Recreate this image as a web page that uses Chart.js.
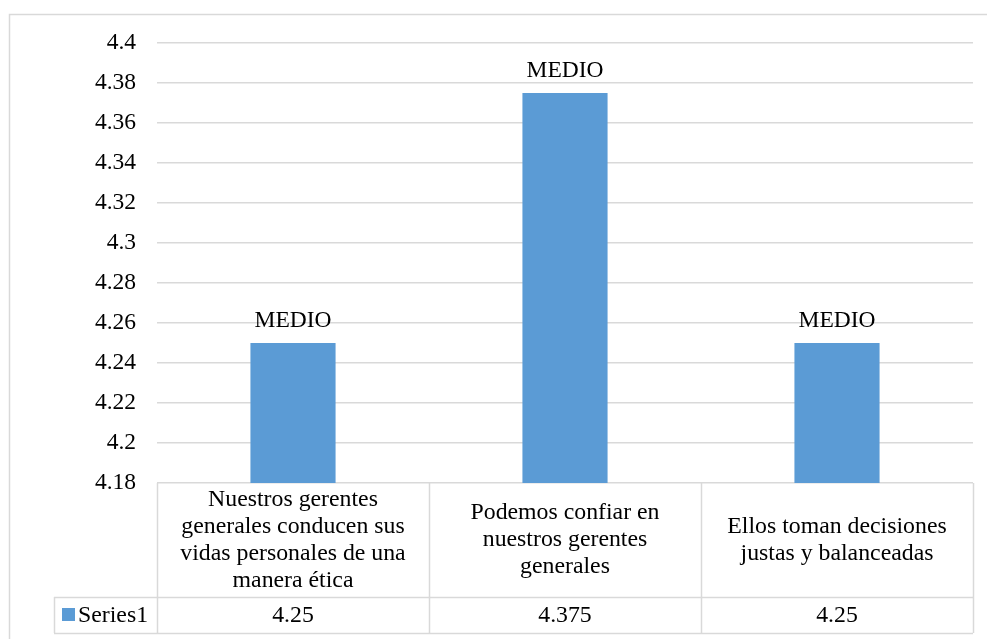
<!DOCTYPE html>
<html>
<head>
    <meta charset="UTF-8" />
    <title>Gerentes generales</title>
    <script src="https://cdn.jsdelivr.net/npm/chart.js"></script>
    <style>
        html, body { margin: 0; padding: 0; background: #fff; }
        #wrap { width: 987px; height: 639px; position: relative; }
    </style>
</head>
<body>
    <div id="wrap"><canvas id="chart"></canvas></div>

    <script>
        // data
        const categories = [
            ["Nuestros gerentes", "generales conducen sus", "vidas personales de una", "manera ética"],
            ["Podemos confiar en", "nuestros gerentes", "generales"],
            ["Ellos toman decisiones", "justas y balanceadas"]
        ];
        const seriesName = "Series1";
        const values = [4.25, 4.375, 4.25];
        const valueLabels = ["4.25", "4.375", "4.25"];
        const barLabels = ["MEDIO", "MEDIO", "MEDIO"];
        const yMin = 4.18, yMax = 4.4, yStep = 0.02;

        const FAMILY = '"Liberation Serif"';
        const FONT = '23.8px ' + FAMILY;
        const LABEL_FONT = '23.5px ' + FAMILY;
        const BAR = '#5B9BD5';
        const LINE = '#d9d9d9';

        const framePlugin = {
            id: 'frame',
            beforeDraw(chart) {
                const ctx = chart.ctx;
                ctx.save();
                ctx.strokeStyle = LINE;
                ctx.lineWidth = 1.5;
                ctx.strokeRect(9.5, 14.5, 990, 640);
                ctx.restore();
            }
        };

        const labelPlugin = {
            id: 'barLabels',
            afterDatasetsDraw(chart) {
                const ctx = chart.ctx;
                const meta = chart.getDatasetMeta(0);
                ctx.save();
                ctx.font = LABEL_FONT;
                ctx.fillStyle = '#000';
                ctx.textAlign = 'center';
                ctx.textBaseline = 'alphabetic';
                meta.data.forEach((bar, i) => {
                    ctx.fillText(barLabels[i], bar.x, bar.y - 16);
                });
                ctx.restore();
            }
        };

        // data table under the plot (Excel style)
        const tablePlugin = {
            id: 'dataTable',
            afterDraw(chart) {
                const ctx = chart.ctx;
                const x = chart.scales.x;
                const area = chart.chartArea;
                const n = categories.length;
                const colW = (area.right - area.left) / n;
                const top = area.bottom;
                const mid = top + 114;
                const bottom = mid + 36;
                const legLeft = 54;

                ctx.save();
                ctx.strokeStyle = LINE;
                ctx.lineWidth = 1.5;
                ctx.beginPath();
                for (let i = 0; i <= n; i++) {
                    const px = Math.round(area.left + i * colW) + 0.5;
                    ctx.moveTo(px, top);
                    ctx.lineTo(px, bottom);
                }
                ctx.moveTo(legLeft, mid + 0.5);
                ctx.lineTo(area.right, mid + 0.5);
                ctx.moveTo(legLeft, bottom + 0.5);
                ctx.lineTo(area.right, bottom + 0.5);
                ctx.moveTo(legLeft + 0.5, mid);
                ctx.lineTo(legLeft + 0.5, bottom);
                ctx.stroke();

                ctx.font = FONT;
                ctx.fillStyle = '#000';
                ctx.textAlign = 'center';
                ctx.textBaseline = 'middle';
                const lh = 27;
                categories.forEach((lines, i) => {
                    const cx = x.getPixelForValue(i);
                    const cy = (top + mid) / 2;
                    const y0 = cy - (lines.length - 1) * lh / 2;
                    lines.forEach((t, j) => ctx.fillText(t, cx, y0 + j * lh));
                    ctx.fillText(valueLabels[i], cx, (mid + bottom) / 2 + 1);
                });

                // legend key
                const ry = (mid + bottom) / 2;
                ctx.fillStyle = BAR;
                ctx.fillRect(62, ry - 7, 13, 13);
                ctx.fillStyle = '#000';
                ctx.textAlign = 'left';
                ctx.fillText(seriesName, 78, ry + 1);
                ctx.restore();
            }
        };

        new Chart(document.getElementById('chart'), {
            type: 'bar',
            data: {
                labels: categories.map(c => c.join(' ')),
                datasets: [{
                    label: seriesName,
                    data: values,
                    backgroundColor: BAR,
                    borderWidth: 0,
                    barPercentage: 1,
                    categoryPercentage: 0.313
                }]
            },
            options: {
                responsive: true,
                maintainAspectRatio: false,
                animation: false,
                layout: { padding: { top: 43, right: 14, bottom: 156, left: 0 } },
                plugins: {
                    legend: { display: false },
                    tooltip: { enabled: false }
                },
                scales: {
                    x: { display: false },
                    y: {
                        min: yMin,
                        max: yMax,
                        afterFit: s => { s.width = 157; },
                        border: { display: false },
                        grid: { color: LINE, lineWidth: 1.5, drawTicks: false },
                        ticks: {
                            stepSize: yStep,
                            padding: 21,
                            color: '#000',
                            font: { family: FAMILY, size: 23.5 },
                            callback: v => String(+v.toFixed(2))
                        }
                    }
                }
            },
            plugins: [framePlugin, labelPlugin, tablePlugin]
        });
    </script>
</body>
</html>
